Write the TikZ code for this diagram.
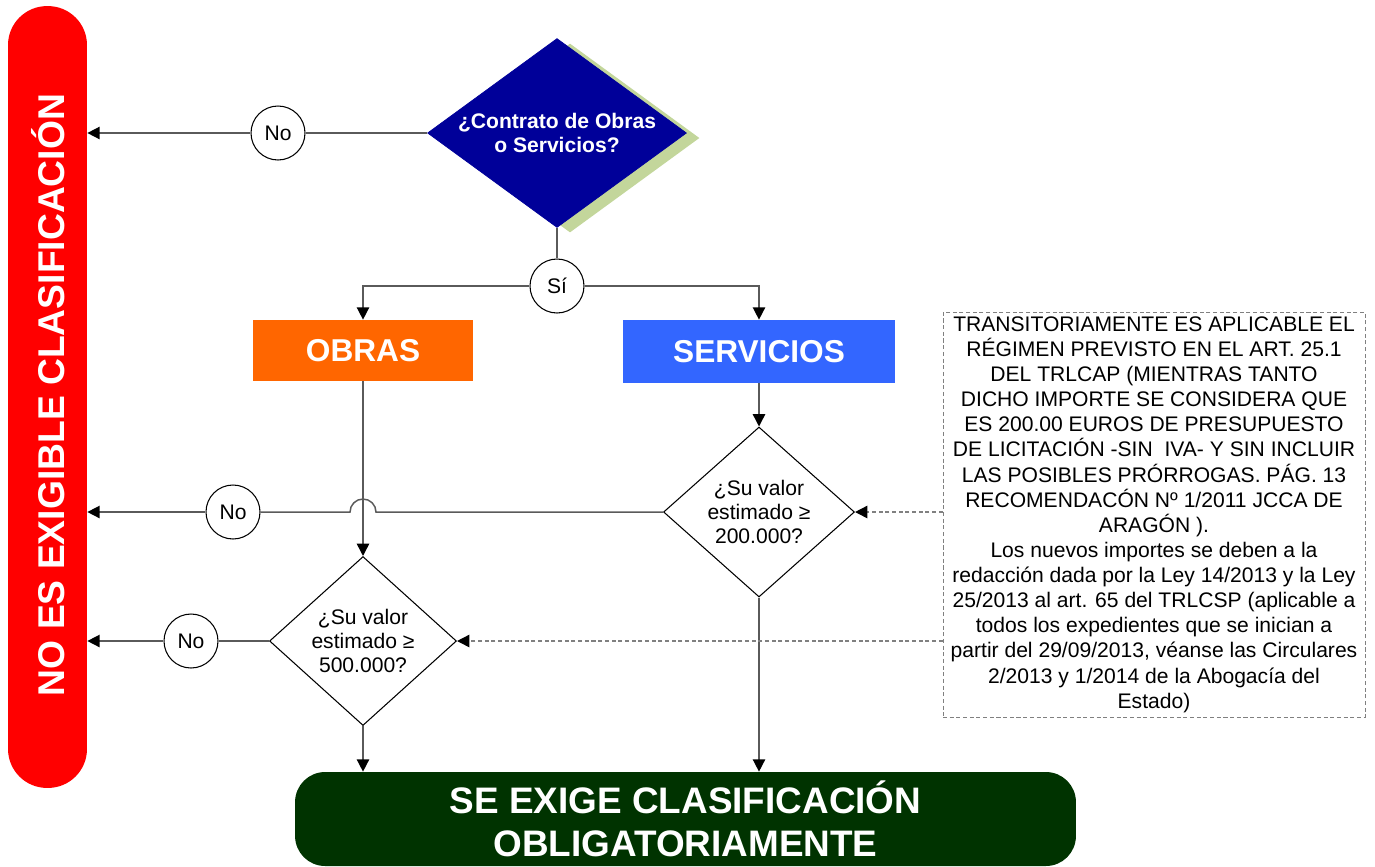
\documentclass[tikz,border=0pt]{standalone}
\usepackage{fontspec}
\setmainfont{Liberation Sans}
\usetikzlibrary{shapes.geometric,arrows.meta,shadows}
\definecolor{rojo}{HTML}{FF0000}
\definecolor{naranja}{HTML}{FF6600}
\definecolor{azul}{HTML}{3366FF}
\definecolor{marino}{HTML}{000099}
\definecolor{oliva}{HTML}{C3D69B}
\definecolor{verde}{HTML}{003300}
\definecolor{gris}{HTML}{5A5A5A}
\definecolor{grisclaro}{HTML}{808080}
\tikzset{
  conector/.style={draw=gris,line width=0.85pt},
  flecha/.style={conector,-{Triangle[length=7pt,width=7pt,color=black]}},
  punteado/.style={draw=grisclaro,dash pattern=on 2.3pt off 1.5pt},
  rombo/.style={diamond,draw=black,line width=0.6pt,fill=white,inner sep=0pt,shape aspect=1.12,
    align=center,font=\fontsize{12}{13.6}\selectfont},
  circulo/.style={circle,draw=black,line width=0.6pt,fill=white,minimum size=1.08cm,inner sep=0pt,
    font=\fontsize{12}{14}\selectfont},
  caja/.style={inner sep=0pt,text=white,font=\bfseries\fontsize{18}{20}\selectfont}
}
\begin{document}
\begin{tikzpicture}[x=0.02cm,y=-0.02cm]
\useasboundingbox (0,0) rectangle (1375,866);

% Red bar: no classification
\node[fill=rojo,rounded corners=0.78cm,minimum width=1.58cm,minimum height=15.64cm,inner sep=0pt] (noexige) at (47.5,397) {};
\node[rotate=90,text=white,font=\bfseries\fontsize{21.2}{24}\selectfont] (rotulo) at (48,395) {NO ES EXIGIBLE CLASIFICACIÓN};

% First question
\node[diamond,fill=marino,draw=marino,inner sep=0pt,minimum width=5.18cm,minimum height=3.78cm,
  drop shadow={shadow xshift=0.26cm,shadow yshift=-0.1cm,fill=oliva,opacity=1},
  label={[text=white,align=center,font=\bfseries\fontsize{12}{14}\selectfont]center:¿Contrato de Obras\\o Servicios?}]
  (contrato) at (557,133) {};
\node[circulo] (noT) at (278,133) {No};
\node[circulo] (si) at (557,286) {Sí};

% Contract types
\node[caja,fill=naranja,minimum width=4.42cm,minimum height=1.22cm] (obras) at (363,350.5) {OBRAS};
\node[caja,fill=azul,minimum width=5.46cm,minimum height=1.26cm] (servicios) at (759,351.5) {SERVICIOS};

% Threshold questions
\node[rombo,minimum width=3.82cm,minimum height=3.4cm] (sval) at (759,512) {¿Su valor\\estimado ≥\\200.000?};
\node[rombo,minimum width=3.74cm,minimum height=3.38cm] (oval) at (363,641) {¿Su valor\\estimado ≥\\500.000?};
\node[circulo] (noS) at (233,512) {No};
\node[circulo] (noO) at (191,641) {No};

% Note
\node[punteado,draw,minimum width=8.44cm,minimum height=8.1cm,inner sep=0pt,align=center,
  font=\fontsize{12}{14.3}\selectfont] (nota) at (1154,514.5)
  {TRANSITORIAMENTE ES APLICABLE EL\\
   RÉGIMEN PREVISTO EN EL ART. 25.1\\
   DEL TRLCAP (MIENTRAS TANTO\\
   DICHO IMPORTE SE CONSIDERA QUE\\
   ES 200.00 EUROS DE PRESUPUESTO\\
   DE LICITACIÓN -SIN\ \ IVA- Y SIN INCLUIR\\
   LAS POSIBLES PRÓRROGAS. PÁG. 13\\
   RECOMENDACÓN Nº 1/2011 JCCA DE\\
   ARAGÓN ).\\
   Los nuevos importes se deben a la\\
   redacción dada por la Ley 14/2013 y la Ley\\
   25/2013 al art. 65 del TRLCSP (aplicable a\\
   todos los expedientes que se inician a\\
   partir del 29/09/2013, véanse las Circulares\\
   2/2013 y 1/2014 de la Abogacía del\\
   Estado)};

% Result
\node[fill=verde,rounded corners=0.6cm,minimum width=15.62cm,minimum height=1.88cm,inner sep=0pt,
  text=white,align=center,font=\bfseries\fontsize{21}{24.4}\selectfont] (exige) at (685.5,819)
  {SE EXIGE CLASIFICACIÓN\\OBLIGATORIAMENTE};

% Connectors
\draw[conector] (contrato) -- (noT);
\draw[flecha] (noT) -- (noT -| noexige.east);
\draw[conector] (contrato) -- (si);
\draw[flecha] (si.west) -| (obras.north);
\draw[flecha] (si.east) -| (servicios.north);
\draw[flecha] (servicios) -- (sval);
\draw[flecha] (obras) -- (oval);
\coordinate (salto) at (obras.south |- sval.west);
\draw[conector] (sval.west) -- ([xshift=0.26cm]salto) arc[start angle=0,end angle=180,radius=0.26cm] -- (noS);
\draw[flecha] (noS) -- (noS -| noexige.east);
\draw[conector] (oval) -- (noO);
\draw[flecha] (noO) -- (noO -| noexige.east);
\draw[flecha] (oval.south) -- (oval.south |- exige.north);
\draw[flecha] (sval.south) -- (sval.south |- exige.north);
\draw[flecha,punteado] (nota.west |- sval.east) -- (sval.east);
\draw[flecha,punteado] (nota.west |- oval.east) -- (oval.east);

\end{tikzpicture}
\end{document}
